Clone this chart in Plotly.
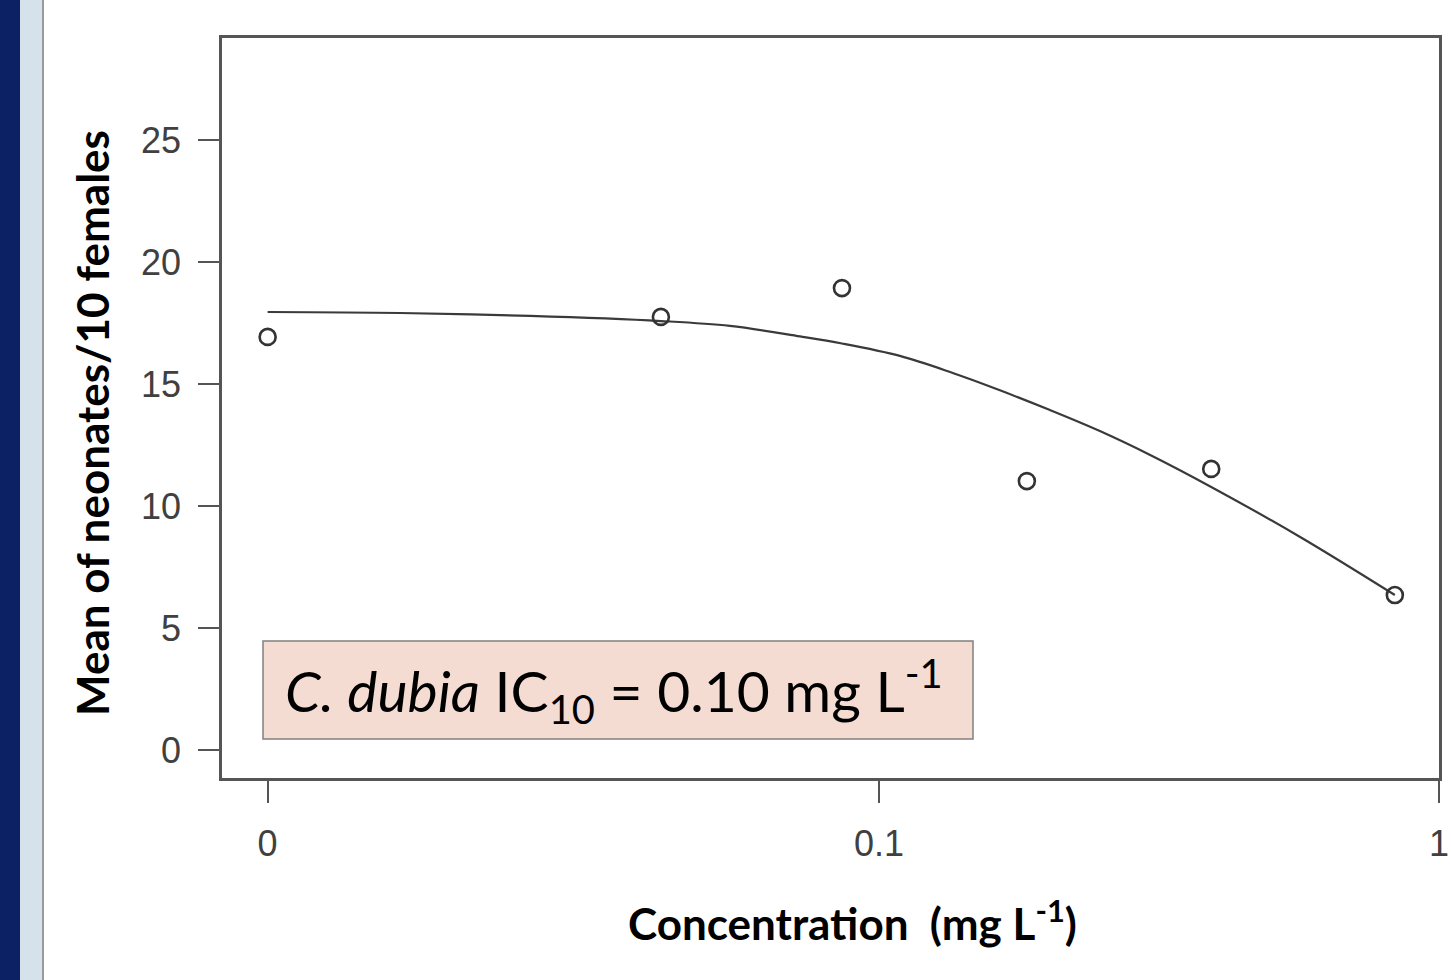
import plotly.graph_objects as go

# ---- data ----
conc_obs = [0.0081, 0.0408, 0.0859, 0.1837, 0.392, 0.834]   # first value = plotted position of control "0"
resp_obs = [16.93, 17.75, 18.93, 11.02, 11.52, 6.35]

conc_fit = [0.0081, 0.01396, 0.0238, 0.0408, 0.0542, 0.0723, 0.0859, 0.109, 0.134,
            0.164, 0.202, 0.248, 0.305, 0.392, 0.565, 0.834]
resp_fit = [17.95, 17.91, 17.79, 17.58, 17.38, 16.95, 16.66, 16.15, 15.49,
            14.75, 13.93, 13.07, 12.09, 10.78, 8.73, 6.35]

x_tickvals = [0.0081, 0.1, 1]
x_ticktext = ["0", "0.1", "1"]
y_tickvals = [0, 5, 10, 15, 20, 25]

W, H = 1451, 980
L, R, T, B = 222, 1439, 38, 778


def px(p):
    return (p - L) / (R - L)


def py(p):
    return (B - p) / (B - T)


fig = go.Figure()
fig.add_trace(go.Scatter(x=conc_fit, y=resp_fit, mode="lines",
                         line=dict(color="#3a3a3a", width=2.2, shape="spline", smoothing=1.0),
                         showlegend=False))
fig.add_trace(go.Scatter(x=conc_obs, y=resp_obs, mode="markers",
                         marker=dict(symbol="circle-open", size=16, color="#333333",
                                     line=dict(width=2.6, color="#333333")),
                         showlegend=False))

tickfont = dict(family="Liberation Sans, Arial, sans-serif", size=36, color="#404040")

fig.update_xaxes(type="log", range=[-2.173, 0.0], tickvals=x_tickvals, ticktext=x_ticktext,
                 showgrid=False, zeroline=False, showline=True, mirror=True, automargin=False,
                 linecolor="#555555", linewidth=2.5, ticks="outside", ticklen=22,
                 tickwidth=2, tickcolor="#555555", tickfont=tickfont, ticklabelstandoff=10)
fig.update_yaxes(range=[-1.148, 29.18], tickvals=y_tickvals, showgrid=False, zeroline=False,
                 showline=True, mirror=True, automargin=False, linecolor="#555555", linewidth=2.5,
                 ticks="outside", ticklen=21, tickwidth=2, tickcolor="#555555",
                 tickfont=tickfont, ticklabelstandoff=10)

shapes = [
    dict(type="rect", xref="paper", yref="paper", x0=px(0), x1=px(20), y0=py(H), y1=py(0),
         fillcolor="#0b2163", line=dict(width=0), layer="below"),
    dict(type="rect", xref="paper", yref="paper", x0=px(20), x1=px(42), y0=py(H), y1=py(0),
         fillcolor="#d5e2ec", line=dict(width=0), layer="below"),
    dict(type="line", xref="paper", yref="paper", x0=px(43), x1=px(43), y0=py(H), y1=py(0),
         line=dict(color="#9a9a9a", width=2)),
    dict(type="rect", xref="paper", yref="paper", x0=px(263), x1=px(973), y0=py(739), y1=py(641),
         fillcolor="#f5dcd2", line=dict(color="#808080", width=1.5)),
]

annotations = [
    dict(xref="paper", yref="paper", x=px(614), y=py(690), xanchor="center", yanchor="middle",
         text="<i>C. dubia</i> IC<sub>10</sub> = 0.10 mg L<sup>-1</sup>", showarrow=False,
         font=dict(family="Lato, Carlito, sans-serif", size=57, color="#000000")),
    dict(xref="paper", yref="paper", x=px(852), y=py(920), xanchor="center", yanchor="middle",
         text="<b>Concentration  (mg L<sup>-1</sup>)</b>", showarrow=False,
         font=dict(family="Lato, Carlito, sans-serif", size=44, color="#000000")),
    dict(xref="paper", yref="paper", x=px(92), y=py(423), xanchor="center", yanchor="middle",
         text="<b>Mean of neonates/10 females</b>", textangle=-90, showarrow=False,
         font=dict(family="Lato, Carlito, sans-serif", size=44, color="#000000")),
]

fig.update_layout(width=W, height=H, margin=dict(l=L, r=W - R, t=T, b=H - B),
                  paper_bgcolor="white", plot_bgcolor="white",
                  shapes=shapes, annotations=annotations)

fig.write_html("out.html", config={"displayModeBar": False},
               post_script="document.body.style.margin='0px';document.body.style.overflow='hidden';")
